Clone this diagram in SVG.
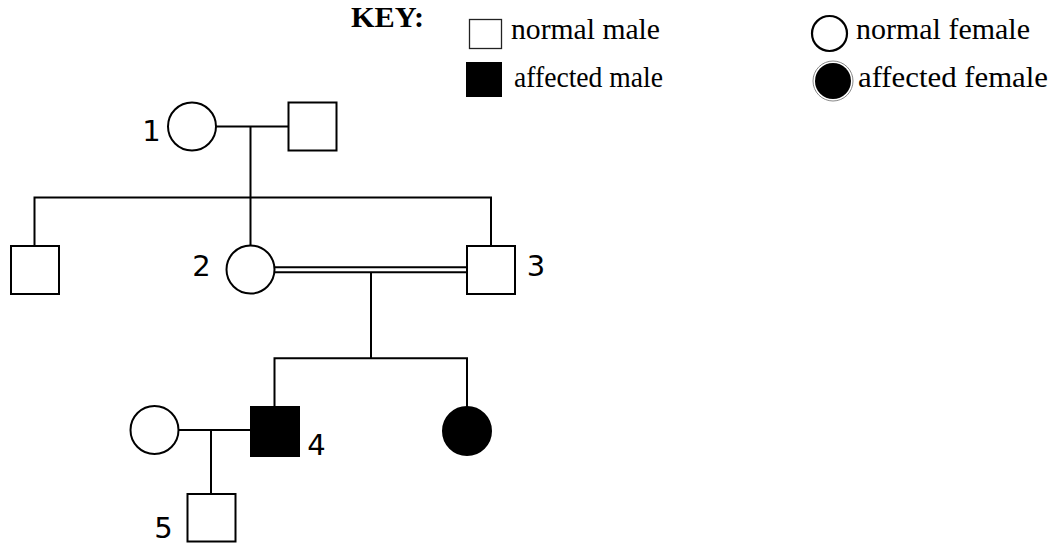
<svg xmlns="http://www.w3.org/2000/svg" width="1063" height="543" viewBox="0 0 1063 543">
<style>
.sym{fill:#fff;stroke:#000;stroke-width:2}
.aff{fill:#000;stroke:#000;stroke-width:2}
.ln{fill:none;stroke:#000;stroke-width:2}
.num{font-family:"DejaVu Sans",sans-serif;font-size:29px;fill:#000;text-anchor:middle}
.key{font-family:"Liberation Serif","Times New Roman",serif;font-size:30px;fill:#000}
</style>
<rect width="1063" height="543" fill="#fff"/>
<g id="key">
<text class="key" x="351" y="27" font-weight="bold" textLength="73" lengthAdjust="spacingAndGlyphs">KEY:</text>
<rect x="469.5" y="19.5" width="32" height="29" fill="#fff" stroke="#222" stroke-width="1.3"/>
<text class="key" x="511" y="39" textLength="149" lengthAdjust="spacingAndGlyphs">normal male</text>
<rect x="466" y="62" width="36" height="35" fill="#000"/>
<text class="key" x="514" y="87" textLength="149" lengthAdjust="spacingAndGlyphs">affected male</text>
<circle cx="829.5" cy="33.5" r="17.5" fill="#fff" stroke="#000" stroke-width="2.2"/>
<text class="key" x="856" y="39" textLength="174" lengthAdjust="spacingAndGlyphs">normal female</text>
<circle cx="833" cy="81" r="20" fill="#fff" stroke="#888" stroke-width="1"/>
<circle cx="833" cy="81" r="18" fill="#000"/>
<text class="key" x="858" y="87" textLength="190" lengthAdjust="spacingAndGlyphs">affected female</text>
</g>
<g id="connectors">
<line class="ln" x1="216" y1="126.5" x2="288" y2="126.5"/>
<line class="ln" x1="250.5" y1="126.5" x2="250.5" y2="245.5"/>
<polyline class="ln" points="34.5,246 34.5,197.5 491,197.5 491,246"/>
<line class="ln" x1="274" y1="267.3" x2="467" y2="267.3"/>
<line class="ln" x1="274" y1="272.3" x2="467" y2="272.3"/>
<line class="ln" x1="371" y1="272.3" x2="371" y2="358.3"/>
<polyline class="ln" points="274.5,407 274.5,358.3 467,358.3 467,407"/>
<line class="ln" x1="179" y1="430" x2="251" y2="430"/>
<line class="ln" x1="211" y1="430" x2="211" y2="494"/>
</g>
<g id="n1"><circle class="sym" cx="192" cy="126.5" r="24"/><text class="num" x="151.5" y="141">1</text></g>
<g id="n1b"><rect class="sym" x="288.5" y="102.5" width="48" height="48"/></g>
<g id="n2a"><rect class="sym" x="11" y="246" width="48" height="48"/></g>
<g id="n2"><circle class="sym" cx="250.5" cy="269.5" r="24"/><text class="num" x="201.5" y="276">2</text></g>
<g id="n3"><rect class="sym" x="467" y="246" width="48" height="48"/><text class="num" x="536" y="276">3</text></g>
<g id="n4"><rect class="aff" x="251" y="407" width="48" height="49"/><text class="num" x="316.5" y="455">4</text></g>
<g id="n4b"><circle class="aff" cx="467" cy="431" r="24"/></g>
<g id="n4w"><circle class="sym" cx="154.5" cy="430" r="24"/></g>
<g id="n5"><rect class="sym" x="187.5" y="494" width="48" height="47.5"/><text class="num" x="163.5" y="538">5</text></g>
</svg>
